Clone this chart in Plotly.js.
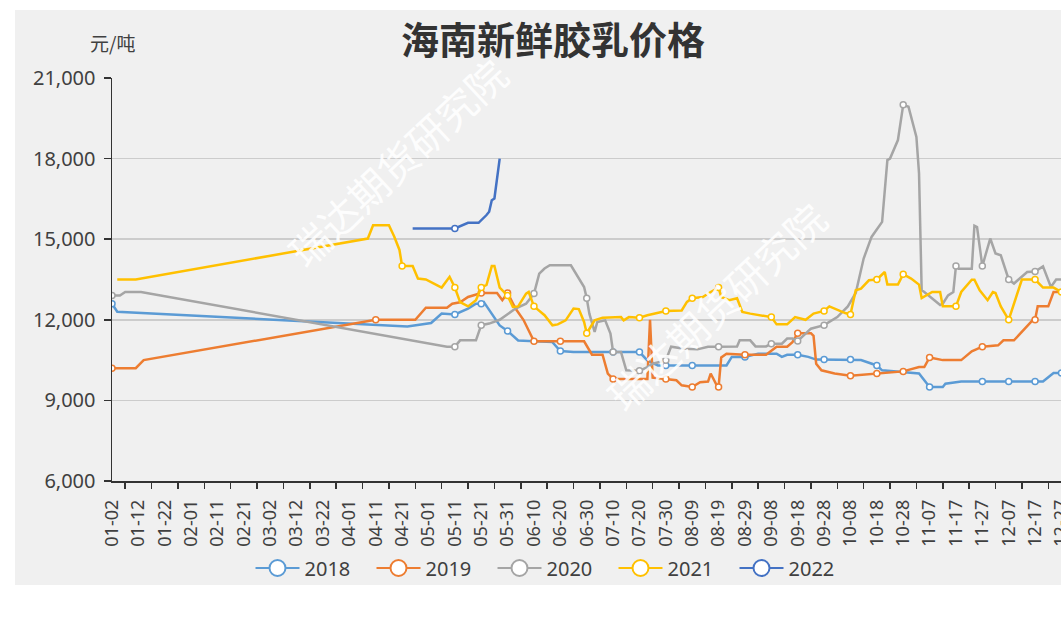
<!DOCTYPE html>
<html><head><meta charset="utf-8">
<script src="https://cdn.plot.ly/plotly-3.0.1.min.js"></script>
<style>
html,body{margin:0;padding:0;background:#fff;overflow:hidden;width:1061px;height:624px;}
#chart{position:absolute;left:15px;top:10px;width:1076px;height:575px;}
</style></head><body><div id="chart"></div>
<script>
const labels = ['01-02','01-12','01-22','02-01','02-11','02-21','03-02','03-12','03-22','04-01','04-11','04-21','05-01','05-11','05-21','05-31','06-10','06-20','06-30','07-10','07-20','07-30','08-09','08-19','08-29','09-08','09-18','09-28','10-08','10-18','10-28','11-07','11-17','11-27','12-07','12-17','12-27'];

const d2018 = ['01-02','01-04','04-23','05-02','05-06','05-11','05-16','05-19','05-21','05-22','05-28','05-31','06-04','06-17','06-20','06-25','07-10','07-20','07-23','07-27','07-30','08-09','08-22','08-24','08-29','09-03','09-10','09-12','09-14','09-18','09-22','09-25','09-28','10-08','10-12','10-18','10-20','11-03','11-07','11-12','11-13','11-19','11-27','12-07','12-17','12-20','12-24','12-27','12-31'];
const v2018 = [12600,12300,11750,11880,12230,12200,12420,12600,12600,12660,11790,11580,11230,11170,10840,10800,10800,10800,10490,10300,10300,10300,10300,10620,10620,10740,10740,10620,10700,10700,10620,10520,10520,10520,10500,10300,10120,10000,9500,9500,9620,9700,9700,9700,9700,9700,10020,10020,10100];

const d2019 = ['01-02','01-11','01-14','04-11','04-26','04-30','05-08','05-10','05-13','05-16','05-21','05-27','05-29','05-31','06-03','06-06','06-10','06-20','06-29','07-02','07-06','07-08','07-10','07-23','07-24','07-25','07-30','08-03','08-05','08-09','08-12','08-15','08-16','08-18','08-19','08-20','08-22','08-29','09-06','09-10','09-14','09-16','09-18','09-23','09-24','09-25','09-27','10-02','10-08','10-18','10-28','11-03','11-05','11-07','11-12','11-19','11-23','11-27','12-03','12-05','12-09','12-16','12-17','12-18','12-22','12-24','12-31'];
const v2019 = [10200,10200,10500,12000,12000,12450,12450,12600,12650,12850,13000,13000,12730,13000,12420,12000,11200,11200,11200,10700,10700,10000,9800,9800,12000,9850,9800,9750,9560,9500,9680,9700,10000,9620,9500,10600,10740,10700,10700,11000,11000,11170,11500,11500,11400,10365,10120,10000,9920,10000,10080,10240,10240,10600,10500,10500,10825,11000,11050,11235,11235,11980,12000,12500,12500,13035,13035];

const d2020 = ['01-02','01-05','01-07','01-13','05-08','05-11','05-13','05-19','05-21','05-24','05-28','06-01','06-03','06-07','06-10','06-12','06-14','06-16','06-24','06-29','06-30','07-01','07-02','07-03','07-04','07-07','07-09','07-10','07-13','07-15','07-20','07-23','07-25','07-28','07-30','08-01','08-06','08-11','08-15','08-19','08-26','08-27','08-31','09-02','09-06','09-08','09-12','09-14','09-16','09-18','09-23','09-28','10-03','10-07','10-10','10-13','10-16','10-20','10-22','10-23','10-26','10-28','10-30','11-02','11-03','11-04','11-05','11-08','11-11','11-12','11-14','11-16','11-17','11-18','11-23','11-24','11-25','11-27','11-30','12-02','12-04','12-07','12-09','12-14','12-17','12-20','12-23','12-25','12-31'];
const v2020 = [12900,12900,13035,13035,11000,11000,11235,11235,11800,11860,12000,12290,12420,12600,12975,13720,13910,14030,14030,13220,12800,12230,11860,11545,11920,11980,11485,10800,10800,10120,10100,10240,10365,10430,10490,11000,10925,10900,11000,11000,11010,11235,11235,11010,11010,11110,11110,11300,11300,11210,11670,11800,12100,12500,13000,14280,15085,15645,17945,18000,18690,20000,19930,18810,17450,13100,13035,12790,12550,12600,12910,13035,14000,13900,13900,15500,15450,14000,15025,14470,14400,13500,13350,13780,13800,13990,13220,13500,13500];

const d2021 = ['01-04','01-11','04-08','04-10','04-16','04-18','04-20','04-21','04-25','04-27','04-30','05-06','05-09','05-11','05-13','05-16','05-19','05-21','05-23','05-25','05-26','05-28','05-31','06-02','06-04','06-07','06-08','06-10','06-14','06-17','06-19','06-22','06-25','06-27','06-29','06-30','07-03','07-06','07-13','07-14','07-16','07-20','07-23','07-30','08-05','08-07','08-09','08-13','08-16','08-19','08-20','08-23','08-26','08-28','08-31','09-08','09-10','09-14','09-17','09-21','09-24','09-28','09-30','10-06','10-08','10-10','10-12','10-15','10-18','10-21','10-22','10-26','10-28','10-31','11-03','11-04','11-08','11-11','11-12','11-17','11-19','11-23','11-24','11-26','11-29','12-01','12-02','12-04','12-07','12-10','12-12','12-17','12-20','12-24','12-27','12-31'];
const v2021 = [13500,13500,15025,15520,15520,15100,14600,14000,14000,13535,13500,13200,13600,13200,12660,12500,12730,13200,13300,14000,14000,13200,12900,12480,12500,12975,13035,12500,12170,11795,11830,11980,12420,12400,11920,11500,11980,12080,12100,11980,12100,12080,12170,12330,12350,12665,12800,12850,13035,13200,12850,12730,12800,12290,12230,12100,11830,11830,12100,12000,12230,12330,12500,12250,12200,13100,13160,13470,13500,13780,13310,13310,13700,13535,13310,12810,13035,13035,12500,12500,13035,13495,13495,13100,12730,13035,13000,12500,12000,12850,13500,13500,13200,13200,13035,13035];

const d2022 = ['04-25','05-11','05-16','05-20','05-23','05-24','05-25','05-26','05-28'];
const v2022 = [15400,15400,15610,15610,15900,16020,16450,16515,18000];

const yTicks = [6000,9000,12000,15000,18000,21000];

const series = [
  {name:'2018', color:'#5b9bd5', d:d2018, v:v2018},
  {name:'2019', color:'#ed7d31', d:d2019, v:v2019},
  {name:'2020', color:'#a5a5a5', d:d2020, v:v2020},
  {name:'2021', color:'#ffc000', d:d2021, v:v2021},
  {name:'2022', color:'#4472c4', d:d2022, v:v2022}
];

const traces = [];
series.forEach(s => {
  const x = s.d.map(m => '2020-' + m);
  traces.push({type:'scatter', mode:'lines', x:x, y:s.v, line:{color:s.color, width:2.5}, showlegend:false, hoverinfo:'skip'});
  const idx = s.d.map((m,i)=>i).filter(i => labels.includes(s.d[i]));
  traces.push({type:'scatter', mode:'markers', x:idx.map(i=>x[i]), y:idx.map(i=>s.v[i]),
    marker:{size:6, color:'#ffffff', line:{color:s.color, width:1.5}}, showlegend:false, hoverinfo:'skip'});
});
series.forEach(s => {
  traces.push({type:'scatter', mode:'lines+markers', x:[null], y:[null], name:s.name,
    line:{color:s.color, width:2}, marker:{size:16, color:'#ffffff', line:{color:s.color, width:2}}});
});

const layout = {
  width:1076, height:575,
  paper_bgcolor:'#f0f0f0', plot_bgcolor:'#f0f0f0',
  margin:{l:97, r:19, t:68, b:104, pad:0},
  font:{family:'"Noto Sans", "Noto Sans CJK SC", sans-serif', color:'#404040'},
  title:{text:'海南新鲜胶乳价格', font:{size:38, weight:'bold', color:'#333333', family:'"Noto Sans CJK SC", sans-serif'},
    x:0.5, xref:'container', xanchor:'center', y:1-31/575, yref:'container', yanchor:'middle'},
  xaxis:{type:'date', range:['2020-01-02','2020-12-31'], tickmode:'array',
    tickvals:labels.map(l=>'2020-'+l), ticktext:labels, tickangle:-90, ticks:'',
    showline:true, linecolor:'#333333', linewidth:1.5, showgrid:false, zeroline:false,
    tickfont:{size:18, color:'#404040'}, ticklabelstandoff:10,
    minor:{tickmode:'linear', tick0:'2020-01-07', dtick:864000000, ticks:'outside', ticklen:6, tickcolor:'#333333', tickwidth:1.5, showgrid:false}},
  yaxis:{range:[6000,21000], tickmode:'array', tickvals:yTicks, tickformat:',d',
    ticks:'outside', ticklen:7, tickcolor:'#333333', tickwidth:1.5,
    showline:true, linecolor:'#333333', linewidth:1.5, gridcolor:'#cccccc', gridwidth:1.5, zeroline:false,
    tickfont:{size:20, color:'#404040'}, ticklabelstandoff:4},
  legend:{orientation:'h', x:0.5, xanchor:'center', xref:'container', y:1-568/575+0.0174, yref:'container', yanchor:'middle',
    font:{size:20, color:'#404040'}, bgcolor:'rgba(0,0,0,0)', itemwidth:44, entrywidth:62, entrywidthmode:'pixels'},
  annotations:[
    {text:'元/吨', xref:'paper', yref:'paper', x:0, y:(481-43)/403, xanchor:'center', yanchor:'middle', showarrow:false,
      font:{size:19, color:'#404040', family:'"Noto Sans CJK SC", sans-serif'}},
    {text:'瑞达期货研究院', xref:'paper', yref:'paper', x:(397-112)/960, y:(481-162)/403, xanchor:'center', yanchor:'middle', showarrow:false,
      textangle:-43, font:{size:40, color:'rgba(255,255,255,0.9)', family:'"Noto Sans CJK SC", sans-serif'}},
    {text:'瑞达期货研究院', xref:'paper', yref:'paper', x:(716-112)/960, y:(481-306)/403, xanchor:'center', yanchor:'middle', showarrow:false,
      textangle:-43, font:{size:40, color:'rgba(255,255,255,0.9)', family:'"Noto Sans CJK SC", sans-serif'}}
  ],
  hovermode:false
};

Plotly.newPlot('chart', traces, layout, {displayModeBar:false, staticPlot:true});
</script>
</body></html>
